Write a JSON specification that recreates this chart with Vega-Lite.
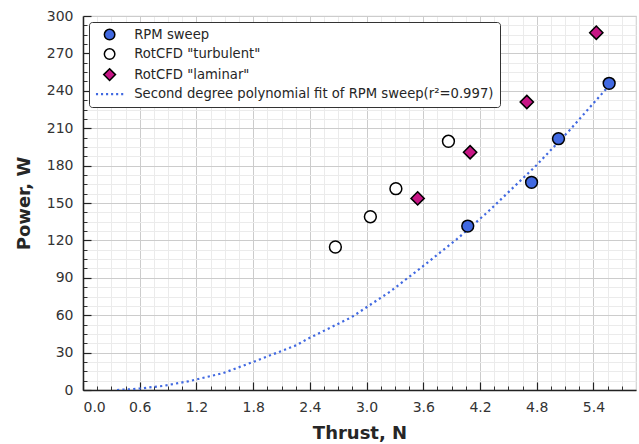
{
  "$schema": "https://vega.github.io/schema/vega-lite/v6.json",
  "width": 553,
  "height": 374,
  "autosize": {"type": "none"},
  "padding": {"left": 83, "top": 16, "right": 3, "bottom": 54},
  "background": "white",
  "config": {
    "font": "DejaVu Sans",
    "view": {"stroke": "#d4d4d4", "strokeWidth": 1.2},
    "legend": {
      "orient": "top-left",
      "offset": 6,
      "padding": 6,
      "symbolOffset": 8,
      "labelOffset": 18,
      "rowPadding": 2.5,
      "symbolSize": 110,
      "symbolStrokeWidth": 1.5,
      "labelFontSize": 13.2,
      "labelColor": "#262626",
      "labelFont": "DejaVu Sans",
      "labelLimit": 600,
      "strokeColor": "#333333",
      "fillColor": "white",
      "cornerRadius": 3
    }
  },
  "datasets": {
    "measurements": [
      {"thrust": 4.07, "power": 131.5, "series": "RPM sweep"},
      {"thrust": 4.745, "power": 166.6, "series": "RPM sweep"},
      {"thrust": 5.03, "power": 201.6, "series": "RPM sweep"},
      {"thrust": 5.566, "power": 246.0, "series": "RPM sweep"},
      {"thrust": 2.67, "power": 114.7, "series": "RotCFD \"turbulent\""},
      {"thrust": 3.04, "power": 139.0, "series": "RotCFD \"turbulent\""},
      {"thrust": 3.31, "power": 161.5, "series": "RotCFD \"turbulent\""},
      {"thrust": 3.866, "power": 199.5, "series": "RotCFD \"turbulent\""},
      {"thrust": 3.54, "power": 153.7, "series": "RotCFD \"laminar\""},
      {"thrust": 4.095, "power": 190.7, "series": "RotCFD \"laminar\""},
      {"thrust": 4.695, "power": 231.0, "series": "RotCFD \"laminar\""},
      {"thrust": 5.43, "power": 286.6, "series": "RotCFD \"laminar\""}
    ],
    "fit": [
      {"thrust": 0.36, "power": 0.0},
      {"thrust": 0.48, "power": 0.5},
      {"thrust": 0.6, "power": 1.2},
      {"thrust": 0.84, "power": 3.2},
      {"thrust": 1.13, "power": 7.2},
      {"thrust": 1.485, "power": 13.6},
      {"thrust": 1.8, "power": 22.5},
      {"thrust": 2.26, "power": 36.0},
      {"thrust": 2.366, "power": 40.6},
      {"thrust": 2.843, "power": 58.5},
      {"thrust": 3.25, "power": 79.0},
      {"thrust": 3.6, "power": 99.5},
      {"thrust": 3.955, "power": 121.0},
      {"thrust": 4.27, "power": 142.0},
      {"thrust": 4.34, "power": 147.0},
      {"thrust": 4.8, "power": 180.5},
      {"thrust": 5.15, "power": 208.6},
      {"thrust": 5.54, "power": 242.0},
      {"thrust": 5.58, "power": 246.0}
    ]
  },
  "resolve": {"axis": {"x": "independent", "y": "independent"}},
  "layer": [
    {
      "data": {"name": "fit"},
      "mark": {"type": "line", "color": "#4169E1", "strokeWidth": 2.2, "strokeDash": [2.2, 3.2], "clip": true},
      "encoding": {
        "x": {
          "field": "thrust", "type": "quantitative",
          "scale": {"domain": [0, 5.85], "nice": false, "zero": false},
          "axis": {
            "orient": "bottom", "title": null, "labels": false, "domain": false,
            "values": [0.15,0.3,0.45,0.75,0.9,1.05,1.35,1.5,1.65,1.95,2.1,2.25,2.55,2.7,2.85,3.15,3.3,3.45,3.75,3.9,4.05,4.35,4.5,4.65,4.95,5.1,5.25,5.55,5.7],
            "ticks": true, "tickSize": -4, "tickColor": "#333333", "tickWidth": 1,
            "grid": true, "gridColor": "#ebebeb", "gridWidth": 1
          }
        },
        "y": {
          "field": "power", "type": "quantitative",
          "scale": {"domain": [0, 300], "nice": false, "zero": false},
          "axis": {
            "orient": "left", "title": null, "labels": false, "domain": false,
            "values": [7.5,15,22.5,37.5,45,52.5,67.5,75,82.5,97.5,105,112.5,127.5,135,142.5,157.5,165,172.5,187.5,195,202.5,217.5,225,232.5,247.5,255,262.5,277.5,285,292.5],
            "ticks": true, "tickSize": -4, "tickColor": "#333333", "tickWidth": 1,
            "grid": true, "gridColor": "#ebebeb", "gridWidth": 1
          }
        }
      }
    },
    {
      "data": {"name": "measurements"},
      "mark": {"type": "point", "filled": true, "opacity": 1, "strokeWidth": 1.5, "size": 140},
      "encoding": {
        "x": {
          "field": "thrust", "type": "quantitative",
          "scale": {"domain": [0, 5.85], "nice": false, "zero": false},
          "axis": {
            "orient": "bottom", "title": "Thrust, N",
            "values": [0, 0.6, 1.2, 1.8, 2.4, 3.0, 3.6, 4.2, 4.8, 5.4], "format": ".1f",
            "domainColor": "#222222", "domainWidth": 1.5,
            "tickSize": -8, "tickColor": "#222222", "tickWidth": 1.2,
            "grid": true, "gridColor": "#cccccc", "gridWidth": 1,
            "labelFontSize": 14, "labelColor": "#333333", "labelPadding": 18,
            "titleFontSize": 18, "titleFontWeight": "bold", "titleColor": "#262626", "titlePadding": 10
          }
        },
        "y": {
          "field": "power", "type": "quantitative",
          "scale": {"domain": [0, 300], "nice": false, "zero": false},
          "axis": {
            "orient": "left", "title": "Power, W",
            "values": [0, 30, 60, 90, 120, 150, 180, 210, 240, 270, 300], "format": "d",
            "domainColor": "#222222", "domainWidth": 1.5,
            "tickSize": -8, "tickColor": "#222222", "tickWidth": 1.2,
            "grid": true, "gridColor": "#cccccc", "gridWidth": 1,
            "labelFontSize": 14, "labelColor": "#333333", "labelPadding": 18,
            "titleFontSize": 18, "titleFontWeight": "bold", "titleColor": "#262626", "titlePadding": 13
          }
        },
        "fill": {
          "field": "series", "type": "nominal",
          "scale": {
            "domain": ["RPM sweep", "RotCFD \"turbulent\"", "RotCFD \"laminar\"", "Second degree polynomial fit of RPM sweep(r²=0.997)"],
            "range": ["#4169E1", "#ffffff", "#C71585", "#4169E1"]
          },
          "legend": {"title": null}
        },
        "stroke": {
          "field": "series", "type": "nominal",
          "scale": {
            "domain": ["RPM sweep", "RotCFD \"turbulent\"", "RotCFD \"laminar\"", "Second degree polynomial fit of RPM sweep(r²=0.997)"],
            "range": ["#000000", "#000000", "#000000", "transparent"]
          },
          "legend": {"title": null}
        },
        "shape": {
          "field": "series", "type": "nominal",
          "scale": {
            "domain": ["RPM sweep", "RotCFD \"turbulent\"", "RotCFD \"laminar\"", "Second degree polynomial fit of RPM sweep(r²=0.997)"],
            "range": ["circle", "circle", "M0,-1.12L1.12,0L0,1.12L-1.12,0Z", "M-2.6,-0.2h0.4v0.4h-0.4z M-1.64,-0.2h0.4v0.4h-0.4z M-0.68,-0.2h0.4v0.4h-0.4z M0.28,-0.2h0.4v0.4h-0.4z M1.24,-0.2h0.4v0.4h-0.4z M2.2,-0.2h0.4v0.4h-0.4z"]
          },
          "legend": {"title": null}
        }
      }
    }
  ]
}
